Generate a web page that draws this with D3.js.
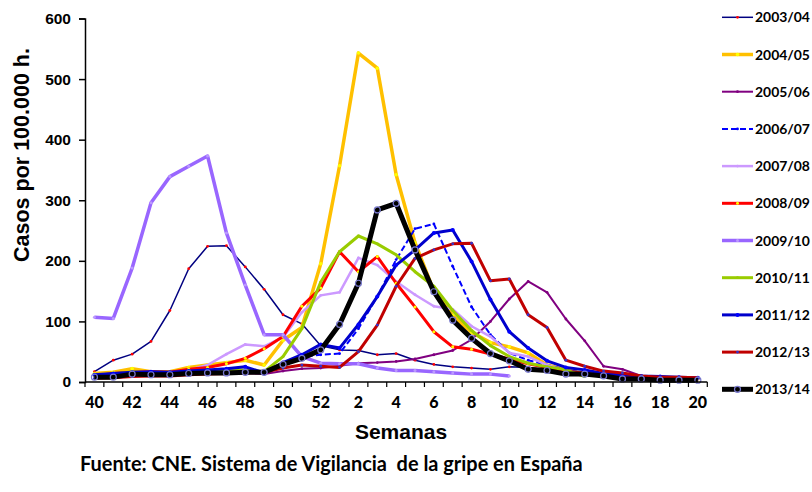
<!DOCTYPE html>
<html>
<head>
<meta charset="utf-8">
<script src="https://cdn.jsdelivr.net/npm/d3@7"></script>
<style>
body { margin: 0; background: #fff; }
svg { display: block; }
</style>
</head>
<body>
<div class="chart"></div>
<script>
// week labels (season runs from week 40 to week 20)
var weeks = [40, 41, 42, 43, 44, 45, 46, 47, 48, 49, 50, 51, 52,
             1, 2, 3, 4, 5, 6, 7, 8, 9, 10, 11, 12, 13, 14, 15, 16, 17, 18, 19, 20];
var yTicks = [0, 100, 200, 300, 400, 500, 600];
var seasons = ["2003/04", "2004/05", "2005/06", "2006/07", "2007/08", "2008/09",
               "2009/10", "2010/11", "2011/12", "2012/13", "2013/14"];

// rates per 100.000, one value per week (null = no data)
var s0304 = [17, 36, 46, 67, 118, 187, 224, 225, 190, 153, 111, 96, 60,
             53, 52, 45, 47, 36, 29, 25, 23, 21, 25, 24, 20, 16, 13, 10, 8, 7, 6, 5, 5];
var s0405 = [14, 16, 22, 17, 17, 24, 28, 32, 36, 28, 69, 90, 195,
             357, 543, 518, 342, 230, 150, 110, 82, 65, 58, 48, 28, 20, 14, 10, 8, 6, 5, 4, 4];
var s0506 = [10, 9, 12, 13, 12, 13, 14, 15, 15, 13, 18, 22, 23,
             27, 31, 32, 34, 38, 45, 52, 70, 100, 137, 166, 148, 104, 68, 26, 21, 10, 8, 8, 6];
var s0607 = [10, 11, 13, 14, 13, 15, 17, 18, 20, 16, 30, 42, 45,
             47, 88, 141, 202, 253, 261, 191, 124, 78, 48, 36, 28, 20, 15, 12, 10, 8, 7, 6, 5];
var s0708 = [11, 12, 14, 15, 15, 20, 28, 46, 62, 59, 74, 115, 143,
             148, 205, 193, 166, 144, 125, 120, 92, 75, 48, 42, 28, 18, 12, 10, 8, 6, 5, 5, 4];
var s0809 = [10, 14, 16, 17, 16, 21, 24, 30, 39, 55, 75, 125, 155,
             215, 182, 207, 163, 124, 83, 58, 54, 46, 38, 30, 24, 18, 14, 12, 10, 8, 8, 7, 6];
var s0910 = [107, 105, 188, 296, 339, 356, 373, 246, 160, 78, 78, 42, 31,
             30, 30, 23, 19, 19, 17, 15, 13, 13, 10, null, null, null, null, null, null, null, null, null, null];
var s1011 = [11, 13, 17, 15, 15, 17, 18, 19, 20, 17, 42, 88, 165,
             215, 241, 228, 210, 182, 158, 118, 85, 60, 42, 31, 25, 20, 9, null, null, null, null, null, null];
var s1112 = [12, 14, 16, 17, 16, 18, 20, 22, 25, 15, 32, 45, 62,
             56, 95, 141, 193, 218, 246, 251, 199, 136, 83, 56, 35, 24, 20, 14, 12, 10, 9, 8, 7];
var s1213 = [6, 7, 9, 10, 10, 12, 13, 14, 15, 16, 23, 28, 26,
             24, 50, 94, 158, 204, 218, 228, 229, 167, 170, 111, 90, 36, 26, 18, 15, 10, 8, 8, 7];
var s1314 = [8, 8, 13, 12, 12, 14, 15, 15, 16, 16, 29, 39, 53,
             95, 163, 284, 295, 218, 149, 102, 72, 47, 35, 21, 19, 13, 13, 10, 5, 5, 3, 3, 3];

var seriesValues = [s0304, s0405, s0506, s0607, s0708, s0809, s0910, s1011, s1112, s1213, s1314];

// look of each season: line colour, width, dash, marker
var styles = [
    {color: "#000080", width: 1.5, dash: null, mark: "#ff0000", r: 1.4},
    {color: "#ffc000", width: 3.5, dash: null, mark: "#ffff00", r: 1.8},
    {color: "#800080", width: 2, dash: null, mark: "#800080", r: 1.4},
    {color: "#0000ff", width: 2, dash: "6,3", mark: "#0000ff", r: 1.4},
    {color: "#cc99ff", width: 2.5, dash: null, mark: "#cc99ff", r: 1.4},
    {color: "#ff0000", width: 3, dash: null, mark: "#ffff00", r: 1.5},
    {color: "#9966ff", width: 3.5, dash: null, mark: "#bb99ff", r: 1.5},
    {color: "#99cc00", width: 3, dash: null, mark: "#99cc00", r: 1.4},
    {color: "#0000cc", width: 3, dash: null, mark: "#0000ff", r: 2},
    {color: "#c00000", width: 3, dash: null, mark: "#3333cc", r: 1.4},
    {color: "#000000", width: 5, dash: null, mark: null, r: 3}
];

var width = 812, height = 492;
var plot = {left: 85, right: 707.3, top: 18.5, bottom: 382};

var svg = d3.select(".chart").append("svg").attr("width", width).attr("height", height);

var x = d3.scaleBand().domain(d3.range(weeks.length)).range([plot.left, plot.right]).padding(0);
var y = d3.scaleLinear().domain([0, 600]).range([plot.bottom, plot.top]);

function cx(i) {
    return x(i) + x.bandwidth() / 2;
}

// shrink a text node until it fits in maxLen
function fitText(node, size, maxLen) {
    var len = node.node().getComputedTextLength();
    if (len > maxLen) {
        node.attr("font-size", (size * maxLen / len) + "px");
    }
}

// lines
var line = d3.line()
    .defined(function (d) { return d != null; })
    .x(function (d, i) { return cx(i); })
    .y(function (d) { return y(d); });

seriesValues.forEach(function (vals, k) {
    var st = styles[k];
    var g = svg.append("g");
    g.append("path").datum(vals).attr("d", line)
        .attr("fill", "none").attr("stroke", st.color).attr("stroke-width", st.width)
        .attr("stroke-linejoin", "round")
        .attr("stroke-dasharray", st.dash);
    var pts = vals.map(function (v, i) { return {v: v, i: i}; }).filter(function (p) { return p.v != null; });
    if (st.mark) {
        g.selectAll("circle").data(pts).enter().append("circle")
            .attr("cx", function (p) { return cx(p.i); }).attr("cy", function (p) { return y(p.v); })
            .attr("r", st.r).attr("fill", st.mark);
    } else {
        g.selectAll("circle").data(pts).enter().append("circle")
            .attr("cx", function (p) { return cx(p.i); }).attr("cy", function (p) { return y(p.v); })
            .attr("r", st.r).attr("fill", "none").attr("stroke", "#7777cc").attr("stroke-width", 1.2);
    }
});

// y axis
var yAxis = d3.axisLeft(y).tickValues(yTicks).tickSize(6).tickPadding(8);
var gy = svg.append("g").attr("transform", "translate(" + plot.left + ",0)").call(yAxis);
gy.select(".domain").attr("stroke", "#000").attr("stroke-width", 1.5);
gy.selectAll(".tick line").attr("stroke", "#000").attr("stroke-width", 1.5);
gy.selectAll(".tick text").attr("font-family", "'Liberation Sans', Arial, sans-serif")
    .attr("font-weight", "bold").attr("font-size", "15.5px").attr("fill", "#000");

// x axis: ticks sit between weeks, labels on every other week
var gx = svg.append("g").attr("transform", "translate(0," + plot.bottom + ")");
gx.append("line").attr("x1", plot.left).attr("x2", plot.right).attr("y1", 0).attr("y2", 0)
    .attr("stroke", "#000").attr("stroke-width", 1.5);
d3.range(weeks.length + 1).forEach(function (i) {
    var xp = i < weeks.length ? x(i) : plot.right;
    gx.append("line").attr("x1", xp).attr("x2", xp).attr("y1", 0).attr("y2", 5)
        .attr("stroke", "#000").attr("stroke-width", 1.2);
});
gx.selectAll("text.wk").data(weeks.filter(function (w, i) { return i % 2 == 0; }))
    .enter().append("text").attr("class", "wk")
    .attr("x", function (w, j) { return cx(j * 2); }).attr("y", 20)
    .attr("dy", "0.35em").attr("text-anchor", "middle")
    .attr("font-family", "Lato, sans-serif").attr("font-weight", "900").attr("font-size", "16px")
    .text(function (w) { return w; });

// axis titles
svg.append("text").attr("transform", "translate(29,155) rotate(-90)")
    .attr("text-anchor", "middle")
    .attr("font-family", "'Liberation Sans', Arial, sans-serif").attr("font-weight", "bold").attr("font-size", "21.5px")
    .text("Casos por 100.000 h.");
svg.append("text").attr("x", 401).attr("y", 439).attr("text-anchor", "middle")
    .attr("font-family", "'Liberation Sans', Arial, sans-serif").attr("font-weight", "bold").attr("font-size", "21px")
    .text("Semanas");

// source note
var src = svg.append("text").attr("x", 80).attr("y", 471).style("white-space", "pre")
    .attr("font-family", "Lato, sans-serif").attr("font-weight", "bold").attr("font-size", "17px")
    .text("Fuente: CNE. Sistema de Vigilancia  de la gripe en España");
var len = src.node().getComputedTextLength();
src.attr("font-size", (17 * 503 / len) + "px");

// legend
var legend = svg.append("g");
seasons.forEach(function (s, k) {
    var st = styles[k];
    var ly = 17.3 + k * 37.2;
    legend.append("line").attr("x1", 722).attr("x2", 753).attr("y1", ly).attr("y2", ly)
        .attr("stroke", st.color).attr("stroke-width", st.width).attr("stroke-dasharray", st.dash);
    if (st.mark) {
        legend.append("circle").attr("cx", 737.5).attr("cy", ly).attr("r", st.r).attr("fill", st.mark);
    } else {
        legend.append("circle").attr("cx", 737.5).attr("cy", ly).attr("r", st.r)
            .attr("fill", "none").attr("stroke", "#7777cc").attr("stroke-width", 1.2);
    }
    var t = legend.append("text").attr("x", 755).attr("y", ly).attr("dy", "0.36em")
        .attr("font-family", "Lato, sans-serif").attr("font-weight", "bold").attr("font-size", "15px")
        .text(s);
    fitText(t, 15, 55);
});
</script>
</body>
</html>
